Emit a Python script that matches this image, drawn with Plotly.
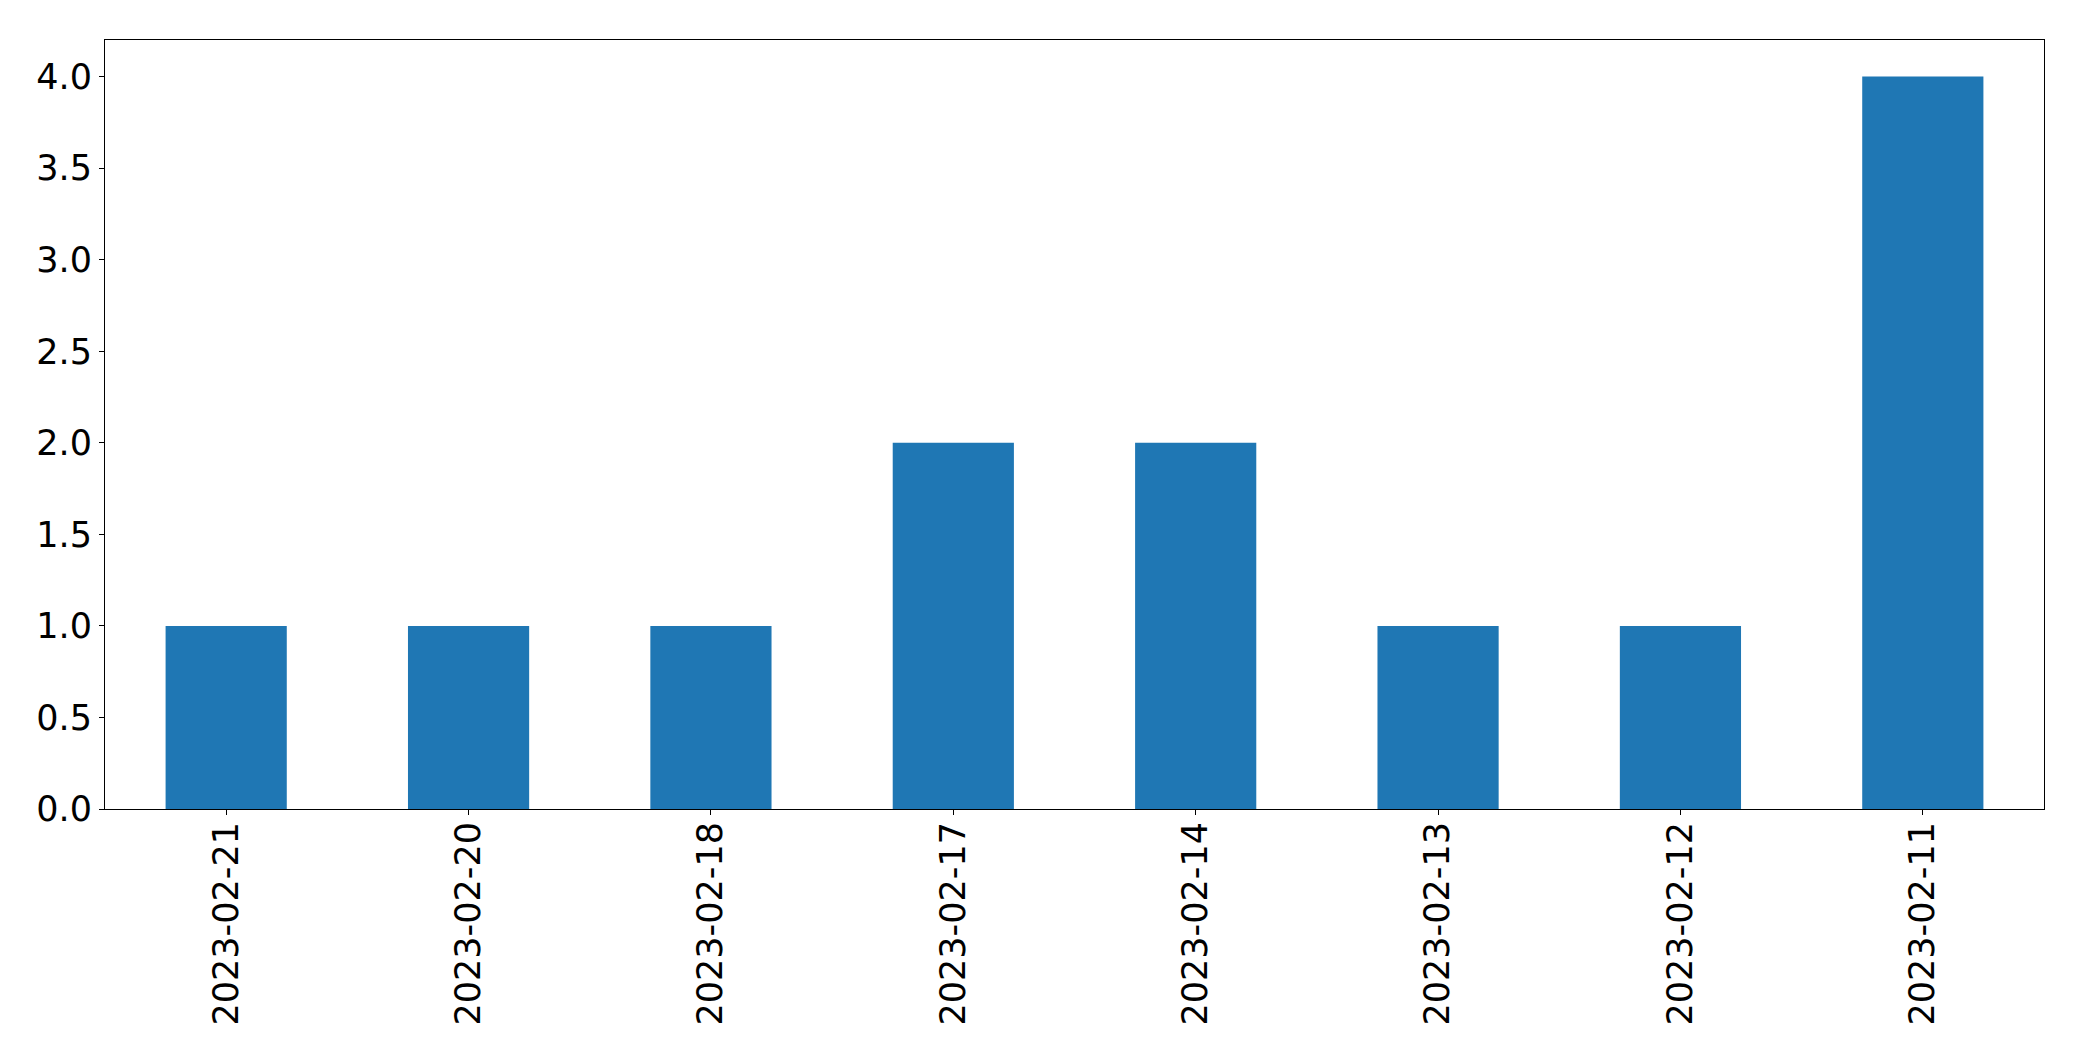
import plotly.graph_objects as go

dates = ["2023-02-21", "2023-02-20", "2023-02-18", "2023-02-17",
         "2023-02-14", "2023-02-13", "2023-02-12", "2023-02-11"]
counts = [1, 1, 1, 2, 2, 1, 1, 4]
y_ticks = [0.0, 0.5, 1.0, 1.5, 2.0, 2.5, 3.0, 3.5, 4.0]

fig = go.Figure(go.Bar(x=dates, y=counts, marker_color="#1f77b4",
                       marker_line_width=0, width=0.5))

axis_common = dict(showline=True, linecolor="black", linewidth=1.1, mirror=True,
                   ticks="outside", ticklen=5, tickwidth=1.1, tickcolor="black",
                   showgrid=False, zeroline=False,
                   tickfont=dict(family="DejaVu Sans", size=35, color="black"))

fig.update_layout(
    width=2082, height=1061,
    margin=dict(l=97, r=46, t=32, b=260),
    plot_bgcolor="white", paper_bgcolor="white",
    showlegend=False,
    xaxis=dict(type="category", range=[-0.5, 7.5], tickangle=-90, automargin=False,
               ticklabelstandoff=-7, **axis_common),
    yaxis=dict(range=[0, 4.2], tickvals=y_ticks, automargin=False,
               ticktext=[f"{v:.1f}" for v in y_ticks], **axis_common),
)

fig.write_html("out.html")
